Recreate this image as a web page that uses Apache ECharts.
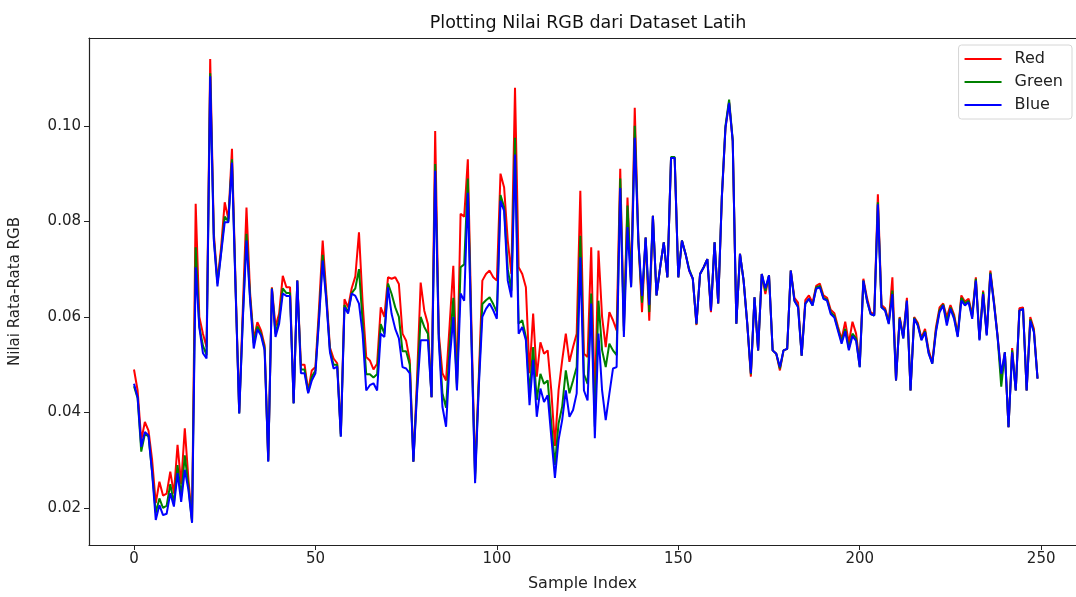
<!DOCTYPE html>
<html>
<head>
<meta charset="utf-8">
<script src="https://cdn.jsdelivr.net/npm/echarts@6/dist/echarts.min.js"></script>
<style>
  html, body { margin: 0; padding: 0; background: #fff; }
  #chart { width: 1076px; height: 597px; }
</style>
</head>
<body>
<div id="chart"></div>
<script>
  // rata-rata nilai per kanal
  var redVals = [
    .0490,.0446,.0342,.0380,.0362,.0300,.0210,.0255,.0226,.0230,.0276,.0230,.0332,.0250,.0367,.0260,.0175,.0837,.0600,.0565,
    .0537,.1140,.0775,.0675,.0745,.0840,.0805,.0952,.0665,.0400,.0620,.0829,.0650,.0553,.0589,.0572,.0540,.0300,.0662,.0580,
    .0607,.0686,.0662,.0662,.0420,.0676,.0500,.0500,.0445,.0488,.0495,.0620,.0760,.0650,.0536,.0513,.0503,.0355,.0637,.0620,
    .0660,.0685,.0777,.0630,.0516,.0509,.0490,.0502,.0620,.0600,.0683,.0680,.0683,.0669,.0565,.0550,.0509,.0297,.0470,.0672,
    .0613,.0585,.0432,.0989,.0565,.0482,.0467,.0585,.0707,.0460,.0816,.0810,.0930,.0580,.0272,.0470,.0676,.0690,.0697,.0683,
    .0676,.0900,.0871,.0760,.0690,.1080,.0704,.0690,.0662,.0482,.0607,.0475,.0547,.0523,.0530,.0446,.0330,.0446,.0509,.0565,
    .0506,.0537,.0565,.0864,.0523,.0516,.0746,.0412,.0739,.0600,.0537,.0610,.0593,.0572,.0910,.0580,.0850,.0670,.1038,.0760,
    .0610,.0766,.0592,.0812,.0645,.0704,.0756,.0683,.0933,.0933,.0683,.0760,.0732,.0697,.0680,.0583,.0690,.0704,.0721,.0610,
    .0756,.0628,.0850,.0996,.1050,.0968,.0586,.0732,.0676,.0586,.0475,.0641,.0530,.0690,.0648,.0687,.0530,.0523,.0488,.0530,
    .0533,.0697,.0640,.0630,.0519,.0635,.0645,.0630,.0665,.0670,.0645,.0640,.0615,.0608,.0580,.0553,.0590,.0545,.0590,.0565,
    .0500,.0680,.0640,.0610,.0605,.0857,.0625,.0618,.0590,.0683,.0467,.0600,.0560,.0640,.0446,.0600,.0588,.0556,.0575,.0530,
    .0505,.0578,.0620,.0628,.0600,.0625,.0605,.0565,.0645,.0632,.0638,.0605,.0683,.0555,.0655,.0565,.0697,.0632,.0560,.0475,
    .0526,.0369,.0535,.0446,.0618,.0620,.0446,.0600,.0575,.0471
  ]
  var greenVals = [
    .0455,.0430,.0318,.0355,.0350,.0275,.0190,.0220,.0200,.0205,.0250,.0210,.0290,.0225,.0310,.0245,.0170,.0746,.0580,.0540,
    .0520,.1110,.0765,.0670,.0735,.0810,.0800,.0930,.0660,.0398,.0600,.0774,.0640,.0545,.0580,.0565,.0535,.0298,.0660,.0565,
    .0595,.0660,.0650,.0650,.0419,.0676,.0490,.0490,.0442,.0475,.0488,.0600,.0730,.0640,.0530,.0500,.0500,.0350,.0625,.0610,
    .0650,.0660,.0700,.0590,.0480,.0480,.0473,.0480,.0585,.0565,.0670,.0648,.0620,.0600,.0528,.0528,.0500,.0297,.0450,.0600,
    .0579,.0565,.0432,.0920,.0555,.0440,.0410,.0540,.0640,.0450,.0704,.0710,.0890,.0555,.0260,.0460,.0627,.0635,.0641,.0627,
    .0610,.0855,.0830,.0700,.0655,.0975,.0586,.0593,.0558,.0440,.0537,.0426,.0481,.0460,.0467,.0377,.0290,.0377,.0412,.0488,
    .0440,.0467,.0495,.0770,.0480,.0460,.0649,.0370,.0634,.0530,.0495,.0544,.0530,.0520,.0890,.0570,.0833,.0665,.1000,.0758,
    .0630,.0766,.0610,.0812,.0645,.0704,.0756,.0683,.0935,.0935,.0683,.0760,.0732,.0700,.0680,.0585,.0690,.0704,.0721,.0615,
    .0756,.0628,.0852,.1000,.1055,.0970,.0586,.0732,.0676,.0586,.0480,.0641,.0530,.0690,.0655,.0687,.0530,.0523,.0492,.0530,
    .0533,.0697,.0634,.0622,.0519,.0628,.0638,.0624,.0662,.0665,.0640,.0636,.0610,.0602,.0575,.0548,.0575,.0535,.0565,.0555,
    .0495,.0676,.0634,.0606,.0603,.0840,.0620,.0615,.0587,.0655,.0467,.0598,.0555,.0634,.0446,.0598,.0584,.0553,.0570,.0525,
    .0502,.0572,.0614,.0626,.0590,.0620,.0600,.0560,.0640,.0628,.0634,.0600,.0680,.0553,.0652,.0563,.0693,.0630,.0557,.0454,
    .0526,.0369,.0530,.0446,.0613,.0617,.0446,.0595,.0570,.0471
  ]
  var blueVals = [
    .0460,.0432,.0328,.0359,.0352,.0273,.0175,.0206,.0185,.0188,.0231,.0203,.0273,.0213,.0280,.0238,.0169,.0704,.0578,.0524,
    .0513,.1104,.0760,.0664,.0732,.0798,.0798,.0923,.0655,.0398,.0595,.0760,.0634,.0534,.0574,.0561,.0530,.0297,.0659,.0558,
    .0586,.0649,.0644,.0644,.0419,.0676,.0482,.0482,.0440,.0467,.0482,.0595,.0718,.0634,.0526,.0492,.0496,.0349,.0620,.0607,
    .0649,.0644,.0628,.0565,.0446,.0457,.0461,.0446,.0565,.0558,.0662,.0606,.0575,.0555,.0495,.0492,.0482,.0297,.0440,.0551,
    .0551,.0551,.0432,.0906,.0551,.0412,.0370,.0510,.0600,.0446,.0649,.0634,.0860,.0551,.0252,.0450,.0600,.0617,.0628,.0614,
    .0596,.0843,.0822,.0676,.0641,.0940,.0565,.0579,.0551,.0415,.0510,.0391,.0450,.0422,.0436,.0349,.0263,.0342,.0384,.0446,
    .0391,.0405,.0440,.0725,.0446,.0425,.0628,.0346,.0565,.0446,.0384,.0439,.0492,.0495,.0870,.0558,.0788,.0662,.0975,.0758,
    .0644,.0766,.0625,.0812,.0645,.0704,.0756,.0683,.0933,.0933,.0683,.0760,.0732,.0697,.0680,.0586,.0690,.0704,.0721,.0613,
    .0756,.0628,.0850,.0996,.1048,.0968,.0586,.0732,.0676,.0586,.0482,.0641,.0530,.0690,.0660,.0687,.0530,.0523,.0495,.0530,
    .0533,.0697,.0634,.0620,.0519,.0628,.0638,.0624,.0659,.0662,.0638,.0634,.0606,.0599,.0571,.0544,.0570,.0530,.0560,.0550,
    .0495,.0676,.0634,.0606,.0603,.0836,.0620,.0613,.0585,.0648,.0467,.0596,.0555,.0634,.0446,.0596,.0582,.0551,.0568,.0523,
    .0502,.0568,.0610,.0624,.0582,.0617,.0596,.0558,.0634,.0624,.0631,.0596,.0676,.0551,.0648,.0561,.0690,.0627,.0557,.0481,
    .0526,.0369,.0526,.0446,.0613,.0617,.0446,.0592,.0568,.0471
  ]
  var xTicks = [0, 50, 100, 150, 200, 250]
  var yTicks = [0.02, 0.04, 0.06, 0.08, 0.10]

  var font = 'DejaVu Sans'
  var chart = echarts.init(document.getElementById('chart'))

  function pairs(vals) {
    return vals.map(function (v, i) { return [i, v] })
  }
  function lineSeries(name, color, vals) {
    return {
      name: name,
      type: 'line',
      symbol: 'none',
      data: pairs(vals),
      lineStyle: { color: color, width: 2 },
      itemStyle: { color: color },
      animation: false
    }
  }

  chart.setOption({
    animation: false,
    title: {
      text: 'Plotting Nilai RGB dari Dataset Latih',
      left: 583,
      top: 9,
      textAlign: 'center',
      textStyle: { fontFamily: font, fontSize: 17.5, fontWeight: 'normal', color: '#111' }
    },
    legend: {
      orient: 'vertical',
      right: 4,
      top: 45,
      icon: 'rect',
      itemWidth: 37,
      itemHeight: 2,
      itemGap: 7,
      padding: [6, 9, 6, 6],
      backgroundColor: '#fff',
      borderColor: '#d6d6d6',
      borderWidth: 1,
      borderRadius: 3,
      textStyle: { fontFamily: font, fontSize: 16, color: '#222', padding: [0, 0, 0, 8] },
      data: ['Red', 'Green', 'Blue']
    },
    grid: { left: 89, right: 0, top: 38, bottom: 49 },
    xAxis: [{
      type: 'value',
      min: -12.4,
      max: 259.6,
      name: 'Sample Index',
      nameLocation: 'middle',
      nameGap: 31,
      nameTextStyle: { fontFamily: font, fontSize: 16, color: '#222' },
      splitLine: { show: false },
      axisLine: { show: true, onZero: false, lineStyle: { color: '#222', width: 1.2 } },
      axisTick: { show: true, length: 5, customValues: xTicks, lineStyle: { color: '#222' } },
      axisLabel: { fontFamily: font, fontSize: 15, color: '#222', margin: 7, customValues: xTicks }
    }, {
      type: 'value',
      position: 'top',
      min: -12.4,
      max: 259.6,
      splitLine: { show: false },
      axisLine: { show: true, onZero: false, lineStyle: { color: '#222', width: 1.2 } },
      axisTick: { show: false },
      axisLabel: { show: false }
    }],
    yAxis: {
      type: 'value',
      min: 0.01225,
      max: 0.1184,
      name: 'Nilai Rata-Rata RGB',
      nameLocation: 'middle',
      nameGap: 66,
      nameRotate: 90,
      nameTextStyle: { fontFamily: font, fontSize: 15, color: '#222' },
      splitLine: { show: false },
      axisLine: { show: true, onZero: false, lineStyle: { color: '#222', width: 1.2 } },
      axisTick: { show: true, length: 5, customValues: yTicks, lineStyle: { color: '#222' } },
      axisLabel: {
        fontFamily: font, fontSize: 15, color: '#222', margin: 8, customValues: yTicks,
        formatter: function (v) { return v.toFixed(2) }
      }
    },
    series: [
      lineSeries('Red', '#ff0000', redVals),
      lineSeries('Green', '#008000', greenVals),
      lineSeries('Blue', '#0000ff', blueVals)
    ]
  })
</script>
</body>
</html>
